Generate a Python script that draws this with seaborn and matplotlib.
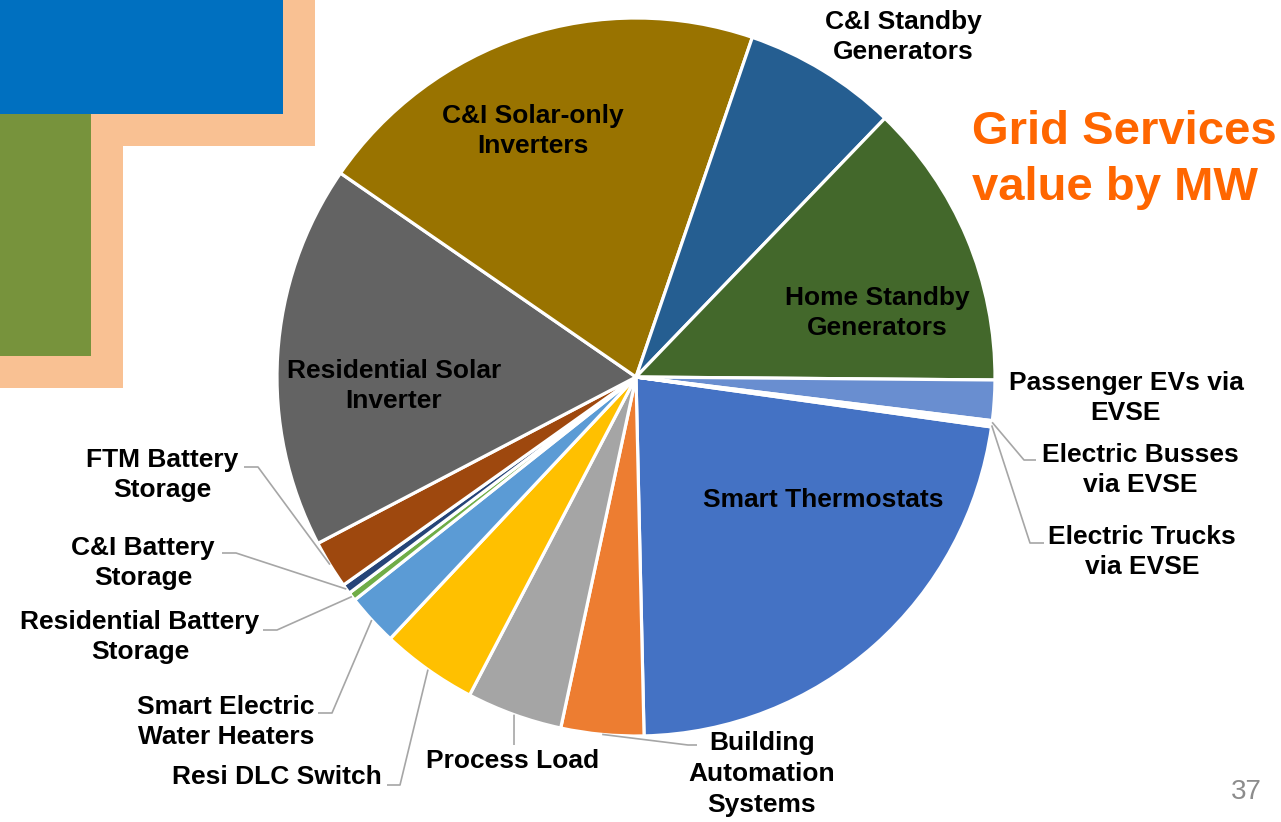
import numpy as np
import matplotlib
matplotlib.use("Agg")
import matplotlib.pyplot as plt
from matplotlib.patches import Rectangle
import seaborn as sns

sns.set_theme(style="white")
plt.rcParams['font.family'] = ['Liberation Sans', 'DejaVu Sans']

# ---------------- data ----------------
categories = ["Smart Thermostats", "Building Automation Systems", "Process Load",
              "Resi DLC Switch", "Smart Electric Water Heaters",
              "Residential Battery Storage", "C&I Battery Storage",
              "FTM Battery Storage", "Residential Solar Inverter",
              "C&I Solar-only Inverters", "C&I Standby Generators",
              "Home Standby Generators", "Passenger EVs via EVSE",
              "Electric Busses via EVSE", "Electric Trucks via EVSE"]
values = [22.42, 3.72, 4.31, 4.33, 2.33, 0.39, 0.44, 2.17, 17.28, 20.64,
          6.94, 12.94, 1.81, 0.14, 0.14]
colors = ["#4472C4", "#ED7D31", "#A5A5A5", "#FFC000", "#5B9BD5", "#70AD47",
          "#264478", "#9E480E", "#636363", "#997300", "#255E91", "#43682B",
          "#698ED0", "#F1975A", "#B7B7B7"]
label_texts = ["Smart Thermostats", "Building\nAutomation\nSystems", "Process Load",
               "Resi DLC Switch", "Smart Electric\nWater Heaters",
               "Residential Battery\nStorage", "C&I Battery\nStorage",
               "FTM Battery\nStorage", "Residential Solar\nInverter",
               "C&I Solar-only\nInverters", "C&I Standby\nGenerators",
               "Home Standby\nGenerators", "Passenger EVs via\nEVSE",
               "Electric Busses\nvia EVSE", "Electric Trucks\nvia EVSE"]
title_text = "Grid Services\nvalue by MW"
page_number = "37"

# ---------------- layout ----------------
W, H = 1281, 822
CX, CY, R = 636, 377, 359
fig = plt.figure(figsize=(W / 100, H / 100), dpi=100)

ax_bg = fig.add_axes([0, 0, 1, 1], zorder=0)
ax_bg.set_xlim(0, W); ax_bg.set_ylim(H, 0); ax_bg.axis("off")

ax = fig.add_axes([(CX - R) / W, (H - CY - R) / H, 2 * R / W, 2 * R / H], zorder=1)

ax_ov = fig.add_axes([0, 0, 1, 1], zorder=2)
ax_ov.set_xlim(0, W); ax_ov.set_ylim(H, 0); ax_ov.axis("off")
ax_ov.patch.set_alpha(0)

# decorations
peach, blue, green = "#F9C193", "#0070C0", "#77933C"
ax_bg.add_patch(Rectangle((0, 0), 315, 146, color=peach, lw=0))
ax_bg.add_patch(Rectangle((0, 0), 123, 388, color=peach, lw=0))
ax_bg.add_patch(Rectangle((0, 0), 283, 114, color=blue, lw=0))
ax_bg.add_patch(Rectangle((0, 114), 91, 242, color=green, lw=0))

# pie
wedges, _ = ax.pie(values, colors=colors, startangle=-8.0, counterclock=False,
                   radius=1.0, center=(0, 0),
                   wedgeprops=dict(edgecolor="white", linewidth=2.3))
ax.set_xlim(-1, 1); ax.set_ylim(-1, 1); ax.axis("off")
ax.patch.set_alpha(0)

def anchor(i, r=1.0):
    w = wedges[i]
    a = np.deg2rad((w.theta1 + w.theta2) / 2)
    return CX + R * r * np.cos(a), CY - R * r * np.sin(a)

# labels (pixel positions)
label_pos = {
    0: (823, 500), 1: (762, 774), 2: (513, 761), 3: (277, 777), 4: (226, 722),
    5: (140, 637), 6: (143, 563), 7: (162, 475), 8: (394, 386), 9: (533, 131),
    10: (903, 37), 11: (877, 313), 12: (1126, 398), 13: (1140, 470), 14: (1142, 552),
}
for i, (x, y) in label_pos.items():
    ax_ov.text(x, y, label_texts[i], ha="center", va="center", multialignment="center",
               fontsize=19, fontweight="bold", color="black", linespacing=1.35)

# leader lines: list of (slice index, elbow points in px)
leaders = {
    7: [(244, 467), (258, 467)],
    6: [(222, 553), (236, 553)],
    5: [(263, 630), (277, 630)],
    4: [(318, 713), (332, 713)],
    3: [(387, 785), (400, 785)],
    2: [(514, 745)],
    1: [(697, 745), (688, 745)],
    13: [(1036, 460), (1024, 460)],
    14: [(1044, 543), (1030, 543)],
}
for i, pts in leaders.items():
    ax_pt = anchor(i)
    xs = [p[0] for p in pts] + [ax_pt[0]]
    ys = [p[1] for p in pts] + [ax_pt[1]]
    ax_ov.plot(xs, ys, color="#A6A6A6", lw=1.2, solid_capstyle="butt")

# title and page number
ax_ov.text(972, 160, title_text, ha="left", va="center", fontsize=34,
           fontweight="bold", color="#FF6600", linespacing=1.37)
ax_ov.text(1262, 792, page_number, ha="right", va="center", fontsize=20,
           color="#8C8C8C")

fig.savefig("out.png", dpi=100)
